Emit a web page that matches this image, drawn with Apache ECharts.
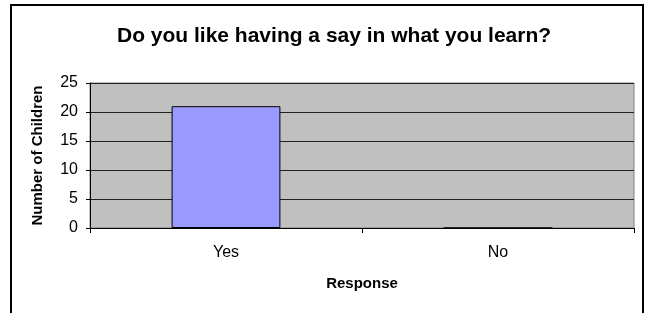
<!DOCTYPE html>
<html>
<head>
<meta charset="utf-8">
<script src="https://cdn.jsdelivr.net/npm/echarts@6/dist/echarts.min.js"></script>
<style>
  html, body { margin: 0; padding: 0; background: #fff; }
  #chart { width: 648px; height: 313px; }
</style>
</head>
<body>
<div id="chart"></div>
<script>
// chart data
const categories = ['Yes', 'No']
const childCounts = [21, 0]
const yTicks = [0, 5, 10, 15, 20, 25]

const font = 'Arial, "Liberation Sans", sans-serif'

const chart = echarts.init(document.getElementById('chart'))
chart.setOption({
  animation: false,
  backgroundColor: '#ffffff',
  title: {
    text: 'Do you like having a say in what you learn?',
    left: 112,
    top: 21,
    textStyle: { fontFamily: font, fontSize: 21, fontWeight: 'bold', color: '#000' }
  },
  // outer frame
  graphic: [{
    type: 'rect',
    shape: { x: 11, y: 5, width: 632, height: 400 },
    style: { fill: 'none', stroke: '#000', lineWidth: 2 },
    silent: true
  }],
  grid: {
    left: 90,
    right: 14,
    top: 83,
    bottom: 85,
    show: true,
    backgroundColor: '#c0c0c0',
    borderColor: '#808080',
    borderWidth: 1
  },
  xAxis: {
    type: 'category',
    data: categories,
    boundaryGap: true,
    name: 'Response',
    nameLocation: 'middle',
    nameGap: 48,
    nameTextStyle: { fontFamily: font, fontSize: 15, fontWeight: 'bold', color: '#000' },
    axisLine: { lineStyle: { color: '#000', width: 1 } },
    axisTick: { show: true, alignWithLabel: false, length: 5, lineStyle: { color: '#000' } },
    axisLabel: { fontFamily: font, fontSize: 16, color: '#000', margin: 17 }
  },
  yAxis: {
    type: 'value',
    min: yTicks[0],
    max: yTicks[yTicks.length - 1],
    interval: 5,
    name: 'Number of Children',
    nameLocation: 'middle',
    nameGap: 45,
    nameTextStyle: { fontFamily: font, fontSize: 15, fontWeight: 'bold', color: '#000' },
    axisLine: { show: true, lineStyle: { color: '#000', width: 1 } },
    axisTick: { show: true, length: 4, lineStyle: { color: '#000' } },
    axisLabel: { fontFamily: font, fontSize: 16, color: '#000', margin: 12 },
    splitLine: { show: true, lineStyle: { color: '#222', width: 1 } }
  },
  series: [{
    type: 'bar',
    data: childCounts,
    barWidth: '40%',
    itemStyle: { color: '#9999ff', borderColor: '#000', borderWidth: 1 }
  }]
})
</script>
</body>
</html>
